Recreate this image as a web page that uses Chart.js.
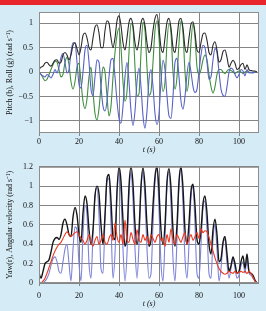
<!DOCTYPE html>
<html><head><meta charset="utf-8">
<script src="https://cdn.jsdelivr.net/npm/chart.js@4"></script>
<style>
html,body{margin:0;padding:0;background:#d5ecf7;}
#wrap{position:relative;width:266px;height:311px;background:#d5ecf7;overflow:hidden;}
#bar{position:absolute;left:0;top:0;width:266px;height:5px;background:#e8252a;}
#c1{position:absolute;left:0;top:0;}
#c2{position:absolute;left:0;top:156px;}
</style></head><body>
<div id="wrap"><div id="bar"></div>
<canvas id="c1" width="266" height="156"></canvas>
<canvas id="c2" width="266" height="155"></canvas>
</div>
<script>
// sample times (s)
const T = Array.from({length:110},(_,i)=>i);
const X_TICKS = [0,20,40,60,80,100];
const Y1_TICKS = [-1,-0.5,0,0.5,1];
const Y2_TICKS = [0,0.2,0.4,0.6,0.8,1,1.2];

// top panel: black trace, pitch (b, blue), roll (g, green)
const topBlack = [
 0.05,0.10,0.12,0.18,0.20,0.15,0.12,0.18,0.24,0.25,
 0.18,0.20,0.35,0.40,0.35,0.25,0.35,0.55,0.60,0.48,
 0.35,0.50,0.75,0.80,0.70,0.50,0.45,0.70,0.92,0.97,
 0.80,0.50,0.50,0.85,1.05,1.00,0.70,0.50,0.70,1.05,
 1.15,0.95,0.60,0.45,0.70,1.02,1.10,0.95,0.60,0.45,
 0.65,1.00,1.10,0.95,0.60,0.40,0.50,0.85,1.10,1.18,
 0.90,0.50,0.40,0.70,1.02,1.10,0.90,0.50,0.40,0.70,
 1.05,1.10,0.90,0.50,0.40,0.70,0.98,1.03,0.80,0.45,
 0.40,0.60,0.78,0.80,0.65,0.40,0.35,0.55,0.62,0.45,
 0.20,0.25,0.42,0.45,0.30,0.10,0.18,0.24,0.18,0.05,
 0.08,0.15,0.18,0.05,0.15,0.05,0.03,0.02,0.02,0.00];
const pitchB = [
 0.00,-0.05,-0.08,-0.10,-0.05,-0.08,-0.12,-0.05,0.05,-0.02,
 0.10,0.30,0.38,0.20,-0.02,0.05,0.40,0.60,0.60,0.20,
 -0.25,-0.33,0.00,0.45,0.55,0.20,-0.35,-0.48,-0.10,0.25,
 0.20,-0.30,-0.70,-0.80,-0.60,-0.10,0.25,0.28,-0.10,-0.60,
 -0.95,-1.05,-0.70,-0.10,0.20,-0.20,-0.80,-1.10,-0.80,-0.20,
 0.08,-0.30,-0.90,-1.15,-0.80,-0.15,0.05,-0.30,-0.85,-1.08,
 -0.85,-0.20,0.24,0.05,-0.50,-0.90,-0.95,-0.50,0.20,0.28,
 -0.10,-0.60,-0.76,-0.50,-0.05,0.20,0.00,-0.30,-0.42,-0.35,
 0.00,0.35,0.55,0.50,0.20,-0.15,-0.10,0.25,0.48,0.40,
 0.00,-0.35,-0.48,-0.50,-0.30,0.00,0.08,0.05,-0.05,-0.12,
 -0.05,0.05,0.02,-0.08,0.05,-0.02,0.00,-0.02,0.00,0.00];
const rollG = [
 0.00,-0.05,-0.12,-0.18,-0.15,-0.05,0.05,0.15,0.22,0.20,
 0.05,-0.10,-0.05,0.20,0.30,0.15,-0.20,-0.35,-0.20,0.10,
 0.18,-0.20,-0.60,-0.75,-0.55,-0.10,0.10,-0.40,-0.85,-0.98,
 -0.75,-0.30,0.10,0.00,-0.50,-0.90,-0.70,-0.10,0.40,0.75,
 0.90,0.50,-0.20,-0.60,-0.40,0.40,1.00,0.90,0.10,-0.50,
 -0.45,0.40,1.02,0.85,0.10,-0.48,-0.40,0.20,0.85,1.05,
 0.70,-0.05,-0.40,-0.20,0.60,1.00,0.80,0.00,-0.35,-0.10,
 0.60,1.05,0.80,0.00,-0.40,-0.10,0.60,1.00,0.70,0.10,
 -0.05,0.05,0.25,0.35,0.25,-0.05,-0.30,-0.43,-0.30,-0.05,
 0.05,0.05,0.00,-0.03,0.02,0.05,0.03,0.00,-0.03,0.00,
 0.02,0.00,-0.03,0.00,0.02,0.00,-0.02,0.00,0.00,0.00];

// bottom panel: angular velocity (black), yaw r (blue), red trace
const angVel = [
 0.10,0.05,0.12,0.20,0.22,0.24,0.32,0.42,0.46,0.47,
 0.45,0.50,0.62,0.66,0.60,0.50,0.48,0.68,0.78,0.70,
 0.50,0.42,0.72,0.90,0.82,0.55,0.40,0.55,0.90,1.00,
 0.92,0.60,0.40,0.70,1.08,1.12,0.85,0.48,0.45,0.95,
 1.20,1.05,0.65,0.38,0.50,1.00,1.20,1.02,0.60,0.40,
 0.55,1.00,1.19,1.00,0.60,0.38,0.45,0.80,1.10,1.20,
 0.95,0.55,0.40,0.60,1.05,1.18,0.98,0.55,0.38,0.60,
 1.05,1.20,0.98,0.55,0.40,0.62,0.95,1.02,0.80,0.45,
 0.40,0.55,0.82,0.90,0.72,0.40,0.30,0.55,0.66,0.50,
 0.22,0.25,0.42,0.48,0.30,0.12,0.18,0.27,0.20,0.10,
 0.12,0.22,0.28,0.15,0.30,0.12,0.10,0.08,0.03,0.00];
const yawR = [
 0.00,0.00,0.00,0.02,0.05,0.10,0.18,0.25,0.27,0.22,
 0.12,0.10,0.22,0.35,0.40,0.20,0.02,0.35,0.58,0.55,
 0.20,0.02,0.50,0.80,0.70,0.20,0.05,0.50,0.90,0.98,
 0.70,0.15,0.10,0.65,1.05,1.08,0.60,0.05,0.30,0.90,
 1.15,0.90,0.35,0.02,0.30,0.90,1.15,0.85,0.35,0.05,
 0.40,0.95,1.15,0.85,0.35,0.05,0.10,0.60,1.05,1.18,
 0.75,0.20,0.02,0.45,1.00,1.15,0.80,0.25,0.02,0.45,
 1.00,1.18,0.80,0.25,0.05,0.40,0.88,1.00,0.60,0.10,
 0.05,0.40,0.78,0.85,0.55,0.10,0.05,0.45,0.60,0.35,
 0.02,0.15,0.40,0.45,0.20,0.05,0.15,0.25,0.15,0.05,
 0.08,0.18,0.22,0.10,0.25,0.10,0.08,0.05,0.02,0.00];
const redTrace = [
 0.02,0.00,0.02,0.05,0.10,0.16,0.22,0.28,0.33,0.37,
 0.40,0.42,0.46,0.50,0.53,0.50,0.48,0.50,0.52,0.53,
 0.50,0.46,0.44,0.40,0.44,0.50,0.42,0.38,0.44,0.48,
 0.40,0.44,0.50,0.42,0.40,0.46,0.50,0.44,0.62,0.48,
 0.42,0.50,0.40,0.65,0.44,0.42,0.52,0.45,0.40,0.55,
 0.45,0.42,0.50,0.44,0.48,0.40,0.50,0.46,0.42,0.48,
 0.50,0.44,0.46,0.38,0.50,0.42,0.56,0.44,0.40,0.50,
 0.46,0.42,0.48,0.52,0.40,0.45,0.50,0.44,0.48,0.52,
 0.46,0.56,0.52,0.54,0.53,0.47,0.40,0.33,0.26,0.20,
 0.15,0.12,0.10,0.09,0.10,0.12,0.11,0.10,0.12,0.10,
 0.11,0.12,0.11,0.12,0.10,0.12,0.10,0.06,0.02,0.00];

const pts = s => T.map((t,i)=>({x:t,y:s[i]}));
const FONT = {family:'"Liberation Serif", "Times New Roman", serif', size:8};
const GRID = '#858585';
const fmt = v => (v<0 ? '\u2212'+Math.abs(v) : String(v));

const framePlugin = {
  id:'frame',
  beforeDraw(chart){
    const {ctx, chartArea:a} = chart;
    ctx.save(); ctx.fillStyle='#ffffff';
    ctx.fillRect(a.left, a.top, a.right-a.left, a.bottom-a.top);
    ctx.restore();
  },
  afterDatasetsDraw(chart){
    const {ctx, chartArea:a} = chart;
    ctx.save(); ctx.strokeStyle='#8e8e8e'; ctx.lineWidth=1;
    ctx.strokeRect(a.left+0.5, a.top+0.5, a.right-a.left-1, a.bottom-a.top-1);
    ctx.restore();
  }
};

function line(data, color, w){
  return {data:pts(data), borderColor:color, borderWidth:w, pointRadius:0,
          cubicInterpolationMode:'monotone', fill:false};
}

function makeChart(id, datasets, yTicks, yMin, yMax, yTitle, pad, xH, tickPad, titlePad){
  return new Chart(document.getElementById(id), {
    type:'line',
    data:{datasets},
    plugins:[framePlugin],
    options:{
      responsive:false, animation:false, devicePixelRatio:1,
      layout:{padding:pad},
      plugins:{legend:{display:false}, tooltip:{enabled:false}},
      scales:{
        x:{type:'linear', min:0, max:110,
           afterBuildTicks:s=>{s.ticks = X_TICKS.map(v=>({value:v}));},
           afterFit:s=>{s.height = xH;},
           grid:{color:GRID, lineWidth:1, drawTicks:true, tickLength:3},
           border:{display:false},
           ticks:{font:FONT, color:'#111', padding:tickPad, maxRotation:0, callback:v=>fmt(v)},
           title:{display:true, text:'t (s)', font:{...FONT, style:'italic'}, color:'#111',
                  padding:{top:0,bottom:titlePad}}},
        y:{min:yMin, max:yMax,
           afterBuildTicks:s=>{s.ticks = yTicks.map(v=>({value:v}));},
           afterFit:s=>{s.width = 39;},
           grid:{color:GRID, lineWidth:1, drawTicks:false},
           border:{display:false},
           ticks:{font:FONT, color:'#111', padding:6, callback:v=>fmt(v)},
           title:{display:true, text:yTitle, font:FONT, color:'#111',
                  padding:{top:5,bottom:0}}}
      }
    }
  });
}

makeChart('c1', [
  line(topBlack, '#2a2a2a', 1.1),
  line(pitchB, '#5862c6', 1.1),
  line(rollG, '#3f8f3f', 1.1)
], Y1_TICKS, -1.25, 1.23, 'Pitch (b), Roll (g) (rad s\u207B\u00B9)',
  {left:0,right:7,top:12,bottom:0}, 23, 1.3, 1.2);

makeChart('c2', [
  line(redTrace, '#e8391f', 1.1),
  line(angVel, '#161616', 1.4),
  line(yawR, '#7c82d8', 1.1)
], Y2_TICKS, 0, 1.2, 'Yaw(r), Angular velocity (rad s\u207B\u00B9)',
  {left:0,right:7,top:7,bottom:0}, 28, 5.3, 2.2);
</script>
</body></html>
